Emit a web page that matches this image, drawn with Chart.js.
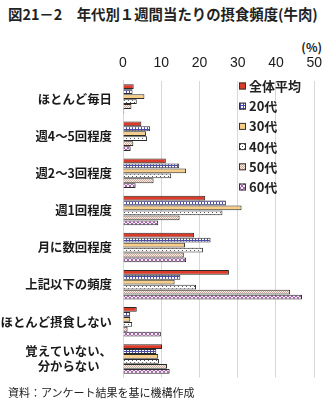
<!DOCTYPE html>
<html lang="ja">
<head>
<meta charset="utf-8">
<title>年代別1週間当たりの摂食頻度(牛肉)</title>
<script src="https://cdn.jsdelivr.net/npm/chart.js@4.4.0/dist/chart.umd.min.js"></script>
<style>
  html, body { margin: 0; padding: 0; background: #fff; }
  #wrap { position: relative; width: 331px; height: 408px; overflow: hidden; font-family: "Noto Sans CJK JP", sans-serif; color: #222; }
  #titulo { position: absolute; left: 8px; top: 3px; font-size: 14.4px; font-weight: 700; white-space: nowrap; }
  #unidad { position: absolute; right: 9px; top: 38px; font-size: 12px; font-weight: 700; }
  #fuente { position: absolute; left: 8px; top: 384px; font-size: 11px; white-space: nowrap; }
  canvas { position: absolute; left: 0; top: 0; }
</style>
</head>
<body>
<div id="wrap">
  <div id="titulo">図21－2　年代別１週間当たりの摂食頻度(牛肉)</div>
  <div id="unidad">(%)</div>
  <canvas id="grafico" width="331" height="408"></canvas>
  <div id="fuente">資料：アンケート結果を基に機構作成</div>
</div>
<script>
// Categorias (eje vertical)
const categorias = [
  'ほとんど毎日',
  '週4～5回程度',
  '週2～3回程度',
  '週1回程度',
  '月に数回程度',
  '上記以下の頻度',
  'ほとんど摂食しない',
  ['覚えていない、', '分からない　']
];

// Series por grupo de edad (%)
const zentai = [2.8, 4.8, 11.2, 21.5, 18.6, 27.7, 3.6, 10.2];
const dai20  = [2.5, 7.1, 14.7, 26.9, 22.9, 15.0, 1.9, 8.7];
const dai30  = [5.6, 6.0, 16.5, 31.0, 16.2, 13.5, 1.9, 9.2];
const dai40  = [3.6, 6.3, 12.6, 26.0, 20.9, 19.1, 2.4, 9.4];
const dai50  = [2.2, 2.7, 8.0, 14.8, 15.9, 43.7, 1.2, 11.5];
const dai60  = [0.3, 2.0, 3.3, 9.2, 16.5, 46.8, 9.9, 12.2];

const etiquetasSerie = ['全体平均', '20代', '30代', '40代', '50代', '60代'];
const ticksX = [0, 10, 20, 30, 40, 50];

// Patrones de relleno de las barras
function crearPatron(tam, dibujar) {
  const c = document.createElement('canvas');
  c.width = tam;
  c.height = tam;
  const g = c.getContext('2d');
  dibujar(g);
  return g.createPattern(c, 'repeat');
}
const ctxBase = document.getElementById('grafico').getContext('2d');

const patronRojo = '#dd3b2a';
const patronAzul = crearPatron(3, g => {
  g.fillStyle = '#ffffff'; g.fillRect(0, 0, 3, 3);
  g.fillStyle = '#4c4ca6'; g.fillRect(0, 0, 3, 1); g.fillRect(0, 0, 1, 3);
});
const patronNaranja = '#f8cd88';
const patronPuntos = crearPatron(4, g => {
  g.fillStyle = '#ffffff'; g.fillRect(0, 0, 4, 4);
  g.fillStyle = '#555555'; g.fillRect(0, 0, 1, 1); g.fillRect(2, 2, 1, 1);
});
const patronBeige = crearPatron(2, g => {
  g.fillStyle = '#fbf1e8'; g.fillRect(0, 0, 2, 2);
  g.fillStyle = '#d2a898'; g.fillRect(0, 0, 1, 1); g.fillRect(1, 1, 1, 1);
});
const patronMorado = crearPatron(4, g => {
  g.fillStyle = '#f6eaf6'; g.fillRect(0, 0, 4, 4);
  g.fillStyle = '#a464a8';
  g.fillRect(0, 0, 1, 1); g.fillRect(1, 1, 1, 1); g.fillRect(2, 2, 1, 1); g.fillRect(3, 3, 1, 1);
  g.fillRect(3, 0, 1, 1); g.fillRect(2, 1, 1, 1); g.fillRect(1, 2, 1, 1); g.fillRect(0, 3, 1, 1);
});

const rellenos = [patronRojo, patronAzul, patronNaranja, patronPuntos, patronBeige, patronMorado];
const series = [zentai, dai20, dai30, dai40, dai50, dai60];

// Leyenda dibujada dentro del area del grafico
const leyendaInterna = {
  id: 'leyendaInterna',
  afterDatasetsDraw(chart) {
    const ctx = chart.ctx;
    ctx.save();
    ctx.font = 'bold 13px "Noto Sans CJK JP"';
    ctx.textBaseline = 'middle';
    chart.data.datasets.forEach((ds, i) => {
      const y = 86 + i * 20.2;
      ctx.fillStyle = ds.backgroundColor;
      ctx.fillRect(239, y - 3.5, 7, 7);
      ctx.strokeStyle = '#333';
      ctx.lineWidth = 1;
      ctx.strokeRect(239.5, y - 3, 6, 6);
      ctx.fillStyle = '#222';
      ctx.fillText(ds.label, 249, y);
    });
    ctx.restore();
  }
};

new Chart(ctxBase, {
  type: 'bar',
  data: {
    labels: categorias,
    datasets: series.map((d, i) => ({
      label: etiquetasSerie[i],
      data: d,
      backgroundColor: rellenos[i],
      borderColor: '#2a2a2a',
      borderWidth: 1,
      borderSkipped: 'start',
      categoryPercentage: 0.8,
      barPercentage: 0.97
    }))
  },
  options: {
    indexAxis: 'y',
    responsive: false,
    animation: false,
    layout: { padding: { left: 0, right: 12, top: 0, bottom: 30.5 } },
    plugins: {
      legend: { display: false },
      tooltip: { enabled: false }
    },
    scales: {
      x: {
        position: 'top',
        min: 0,
        max: 50,
        afterBuildTicks: s => { s.ticks = ticksX.map(v => ({ value: v })); },
        afterFit: s => { s.height = 80.5; },
        ticks: {
          padding: 9,
          color: '#1a1a1a',
          font: { family: '"Liberation Sans", Arial, sans-serif', size: 14 }
        },
        grid: { color: '#d8d8d8', drawTicks: false },
        border: { display: false }
      },
      y: {
        afterFit: s => { s.width = 123; },
        ticks: {
          padding: 11,
          color: '#1a1a1a',
          font: { family: '"Noto Sans CJK JP", sans-serif', size: 12.4, weight: 'bold', lineHeight: 1.2 }
        },
        grid: { display: false, drawTicks: false },
        border: { display: true, color: '#d8d8d8' }
      }
    }
  },
  plugins: [leyendaInterna]
});
</script>
</body>
</html>
